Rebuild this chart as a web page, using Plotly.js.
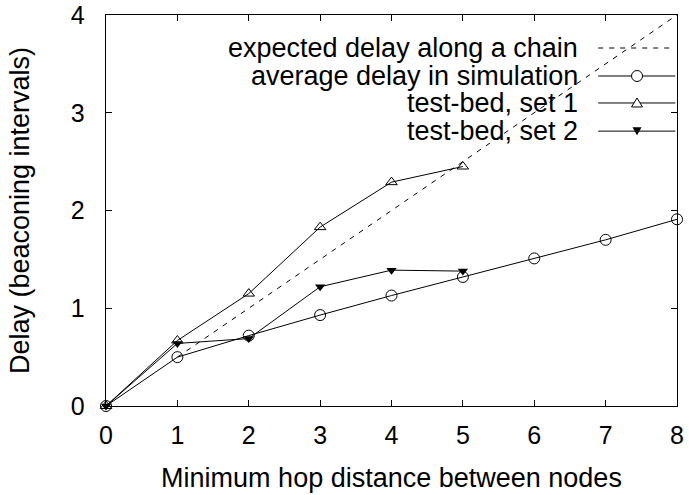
<!DOCTYPE html>
<html>
<head>
<meta charset="utf-8">
<script src="https://cdn.plot.ly/plotly-3.0.1.min.js"></script>
<style>html,body{margin:0;padding:0;background:#fff;}#chart{width:689px;height:495px;}</style>
</head>
<body>
<div id="chart"></div>
<script>
// Data
const hops = [0, 1, 2, 3, 4, 5, 6, 7, 8];
const expectedHops = [1, 2, 3, 4, 5, 6, 7, 8];
const expectedDelay = [0.5, 1.0, 1.5, 2.0, 2.5, 3.0, 3.5, 4.0];
const simDelay = [0, 0.50, 0.72, 0.93, 1.13, 1.32, 1.51, 1.70, 1.91];
const set1Hops = [0, 1, 2, 3, 4, 5];
const set1Delay = [0, 0.67, 1.15, 1.83, 2.29, 2.45];
const set2Hops = [0, 1, 2, 3, 4, 5];
const set2Delay = [0, 0.64, 0.69, 1.22, 1.39, 1.38];
const legendNames = ["expected delay along a chain", "average delay in simulation", "test-bed, set 1", "test-bed, set 2"];
const xTickVals = [0, 1, 2, 3, 4, 5, 6, 7, 8];
const yTickVals = [0, 1, 2, 3, 4];

const FONT = "Liberation Sans, Arial, Helvetica, sans-serif";
const black = "#000";

const traces = [
  {x: expectedHops, y: expectedDelay, mode: "lines", name: legendNames[0],
   line: {color: black, width: 1, dash: "5px,6px"}, showlegend: false, cliponaxis: true},
  {x: hops, y: simDelay, mode: "lines+markers", name: legendNames[1],
   line: {color: black, width: 1},
   marker: {symbol: "circle-open", size: 11, color: black, line: {width: 1, color: black}},
   showlegend: false, cliponaxis: false},
  {x: set1Hops, y: set1Delay, mode: "lines+markers", name: legendNames[2],
   line: {color: black, width: 1},
   marker: {symbol: "triangle-up-open", size: 10, color: black, line: {width: 1, color: black}},
   showlegend: false, cliponaxis: false},
  {x: set2Hops, y: set2Delay, mode: "lines+markers", name: legendNames[3],
   line: {color: black, width: 1},
   marker: {symbol: "triangle-down", size: 9, color: black, line: {width: 0}},
   showlegend: false, cliponaxis: false}
];

// Custom legend (text right-aligned, sample on the right, as in the reference)
const rowsY = [0.9156, 0.844, 0.775, 0.703];
const txtX = 0.830, lnX0 = 0.862, lnX1 = 0.997, mkX = 0.930;
const annotations = [];
const shapes = [];
legendNames.forEach((nm, i) => {
  annotations.push({text: nm, xref: "paper", yref: "paper", x: txtX, y: rowsY[i],
    xanchor: "right", yanchor: "middle", showarrow: false,
    font: {family: FONT, size: 27, color: black}});
  shapes.push({type: "line", xref: "paper", yref: "paper", x0: lnX0, x1: lnX1, y0: rowsY[i], y1: rowsY[i],
    line: {color: black, width: 1, dash: i === 0 ? "5px,6px" : "solid"}});
});
// legend markers
shapes.push({type: "circle", xref: "paper", yref: "paper", xsizemode: "pixel", ysizemode: "pixel",
  xanchor: mkX, yanchor: rowsY[1], x0: -5.5, x1: 5.5, y0: -5.5, y1: 5.5,
  fillcolor: "#fff", line: {color: black, width: 1}});
shapes.push({type: "path", xref: "paper", yref: "paper", xsizemode: "pixel", ysizemode: "pixel",
  xanchor: mkX, yanchor: rowsY[2], path: "M -5.5 -4 L 5.5 -4 L 0 5 Z",
  fillcolor: "#fff", line: {color: black, width: 1}});
shapes.push({type: "path", xref: "paper", yref: "paper", xsizemode: "pixel", ysizemode: "pixel",
  xanchor: mkX, yanchor: rowsY[3], path: "M -4.5 4 L 4.5 4 L 0 -4 Z",
  fillcolor: black, line: {color: black, width: 0}});

const layout = {
  width: 689, height: 495,
  margin: {l: 106, r: 12, t: 15, b: 89},
  paper_bgcolor: "#fff", plot_bgcolor: "#fff",
  font: {family: FONT, color: black},
  showlegend: false,
  xaxis: {
    range: [0, 8], tickvals: xTickVals, ticktext: xTickVals.map(String),
    showgrid: false, zeroline: false, showline: true, mirror: "ticks",
    linecolor: black, linewidth: 1.3, ticks: "inside", ticklen: 6, tickcolor: black, tickwidth: 1,
    ticklabelstandoff: 7,
    tickfont: {family: FONT, size: 25, color: black},
    title: {text: "Minimum hop distance between nodes", font: {family: FONT, size: 27, color: black}, standoff: 19}
  },
  yaxis: {
    range: [0, 4], tickvals: yTickVals, ticktext: yTickVals.map(String),
    showgrid: false, zeroline: false, showline: true, mirror: "ticks",
    linecolor: black, linewidth: 1.3, ticks: "inside", ticklen: 6, tickcolor: black, tickwidth: 1,
    ticklabelstandoff: 15,
    tickfont: {family: FONT, size: 25, color: black},
    title: {text: "Delay (beaconing intervals)", font: {family: FONT, size: 27, color: black}, standoff: 33}
  },
  annotations: annotations,
  shapes: shapes
};

Plotly.newPlot("chart", traces, layout, {staticPlot: true, displayModeBar: false});
</script>
</body>
</html>
